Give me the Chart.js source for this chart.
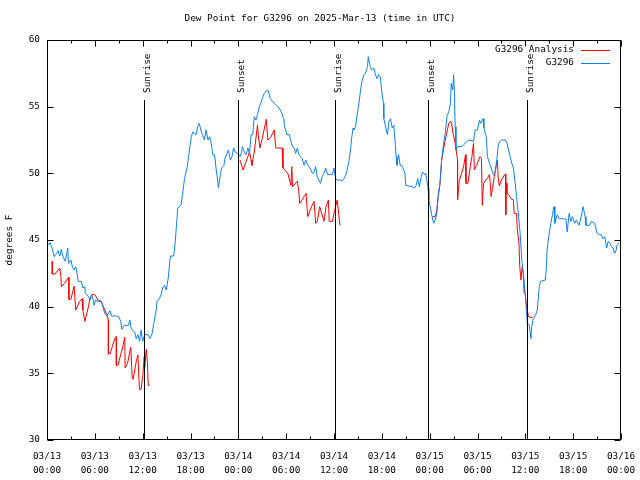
<!DOCTYPE html>
<html>
<head>
<meta charset="utf-8">
<script src="https://cdn.jsdelivr.net/npm/chart.js@4.4.1/dist/chart.umd.min.js"></script>
<style>
  html, body { margin: 0; padding: 0; background: #fff; }
  canvas { display: block; }
</style>
</head>
<body>
<canvas id="dewChart" width="640" height="480"></canvas>
<script>
// hours since 03/13 00:00 UTC, dew point in F
const obsHours = [0.15,0.4,0.7,0.9,1.2,1.4,1.6,1.8,2.0,2.3,2.6,2.7,3.0,3.2,3.4,3.6,3.8,3.9,4.3,4.5,4.75,4.8,5.2,5.4,5.6,5.8,5.9,6.1,6.4,6.8,7.0,7.25,7.5,7.9,8.1,8.7,9.0,9.25,9.4,9.7,10.2,10.4,10.5,10.7,11.0,11.2,11.4,11.6,11.8,12.0,12.25,12.7,12.9,13.15,13.4,13.7,13.8,14.1,14.3,14.5,14.75,14.95,15.2,15.4,15.5,15.9,16.1,16.2,16.4,16.6,16.8,17.0,17.25,17.6,17.9,18.1,18.3,18.5,18.7,18.9,19.1,19.3,19.5,19.75,19.95,20.2,20.4,20.6,20.8,21.0,21.1,21.2,21.4,21.5,21.75,21.9,22.2,22.3,22.6,22.75,23.0,23.2,23.4,23.6,23.9,24.25,24.4,24.5,24.75,24.95,25.2,25.4,25.6,25.8,26.0,26.2,26.4,26.6,26.8,27.0,27.25,27.5,27.75,28.0,28.3,28.5,28.8,29.1,29.4,29.7,29.8,30.1,30.4,30.6,30.8,31.0,31.2,31.4,31.6,31.8,32.0,32.25,32.45,32.7,32.9,33.1,33.3,33.5,33.7,33.9,34.1,34.3,34.5,34.75,34.95,35.2,35.6,35.8,36.0,36.2,36.4,36.8,37.0,37.25,37.5,37.7,37.9,38.1,38.2,38.4,38.5,38.7,38.9,39.1,39.3,39.5,39.75,39.95,40.2,40.3,40.5,40.7,41.0,41.2,41.4,41.6,41.8,42.0,42.2,42.25,42.5,42.7,42.9,43.1,43.3,43.5,43.7,43.8,43.9,44.1,44.3,44.5,44.9,45.0,45.4,45.8,46.1,46.3,46.5,46.7,46.95,47.1,47.4,47.5,47.8,47.9,48.1,48.3,48.5,48.7,48.9,49.1,49.3,49.5,49.75,49.95,50.2,50.4,50.6,50.7,50.9,51.0,51.1,51.2,51.3,51.5,51.95,52.2,52.7,52.9,53.5,53.7,54.0,54.25,54.4,54.7,54.8,55.1,55.25,55.5,55.8,56.0,56.2,56.4,56.6,56.8,57.0,57.5,57.7,57.9,58.1,58.3,58.5,58.7,58.9,59.1,59.35,59.55,59.75,59.95,60.1,60.25,60.5,60.7,60.8,61.0,61.3,61.5,61.75,61.9,62.5,62.6,62.75,63.0,63.2,63.4,63.6,63.7,64.0,64.25,64.7,65.1,65.25,65.5,65.7,65.9,66.2,66.4,66.75,67.0,67.25,67.5,67.6,68.0,68.3,68.7,69.0,69.3,69.5,69.75,69.95,70.2,70.4,70.6,70.8,71.0,71.2,71.4,71.5,71.75];
const obsDewPt = [44.6,44.8,44.25,43.75,44.0,44.2,43.8,44.3,43.75,43.4,44.4,43.25,43.5,42.95,42.75,43.0,42.4,41.9,41.9,41.4,41.5,41.0,40.75,40.5,40.9,40.5,40.1,40.5,40.4,40.4,40.0,39.5,39.3,39.7,39.3,39.3,39.25,38.9,38.3,38.6,38.6,39.0,38.5,38.25,38.1,37.6,37.9,37.4,38.25,37.4,37.9,37.9,37.6,37.9,38.75,39.75,40.4,40.6,40.9,41.4,41.6,41.25,42.1,43.4,43.8,43.8,45.0,45.75,47.4,47.5,47.6,48.4,49.6,50.5,51.9,52.75,53.1,53.0,52.9,53.5,53.75,53.25,52.9,52.5,53.25,52.5,52.75,52.25,51.4,51.4,51.0,50.4,49.5,48.9,49.9,50.4,50.6,51.1,51.5,51.75,51.0,51.25,51.9,51.6,51.5,51.25,51.6,52.0,51.6,51.4,51.9,51.5,52.9,52.9,54.25,54.0,54.4,54.9,55.25,55.6,56.0,56.2,56.2,55.6,55.4,55.25,55.1,54.9,54.6,54.1,53.5,52.9,52.9,52.4,52.0,51.9,51.5,51.9,51.4,51.25,51.1,50.6,51.0,50.6,50.5,50.25,50.0,50.1,50.5,49.75,49.5,49.25,49.75,50.0,50.4,49.9,49.9,49.9,50.4,49.6,49.5,49.5,49.4,49.6,49.9,50.4,51.0,51.9,52.6,53.4,53.25,53.5,54.4,55.1,56.1,56.9,57.4,57.5,58.0,58.75,58.1,57.75,57.9,57.4,57.1,57.4,57.25,56.1,55.25,54.1,53.4,52.9,53.9,54.1,53.4,53.6,52.1,51.25,50.6,51.4,50.6,50.6,50.0,49.1,49.05,49.0,48.9,49.1,49.6,49.0,49.75,50.1,49.9,50.0,48.9,48.0,47.4,46.75,46.25,46.5,47.0,48.5,49.25,51.0,52.25,53.0,54.4,54.6,55.25,56.75,56.25,57.4,56.0,53.5,51.75,52.0,52.0,52.1,52.4,52.5,52.4,53.25,53.25,54.0,53.75,54.1,53.4,52.75,51.25,50.75,50.25,49.9,50.0,50.9,52.1,52.4,52.5,52.5,52.25,51.75,51.25,50.75,50.4,49.4,48.25,47.1,45.5,43.5,42.5,41.25,40.0,38.75,38.6,37.6,38.5,39.1,39.4,39.75,41.5,41.9,42.0,42.6,44.4,45.5,46.25,46.9,47.5,46.25,46.9,46.6,46.6,46.55,45.6,47.0,46.4,46.75,46.25,46.5,46.1,46.75,47.5,46.75,46.1,46.1,46.4,46.25,45.5,45.4,45.4,45.1,45.25,44.4,44.9,44.75,44.5,44.4,44.0,44.25,44.6,44.8];

// analysis series, null = no analysis (gap)
const anaHours = [0.66,0.66,1.0,1.6,1.75,1.8,2.2,2.7,2.75,3.0,3.4,3.6,4.1,4.4,4.5,4.75,5.1,5.4,5.6,6.0,6.4,6.8,7.0,7.25,7.5,7.7,7.7,7.9,8.5,8.7,8.7,8.9,9.5,9.75,9.8,10.1,10.5,10.7,10.8,11.2,11.4,11.6,11.8,12.0,12.2,12.25,12.45,12.6,12.7,12.9,
  18,
  24.2,24.6,25.4,25.6,25.7,26.0,26.4,26.5,26.7,27.0,27.4,27.5,27.7,28.1,28.5,28.7,29.5,29.6,30.2,30.6,30.7,30.8,31.4,31.6,31.7,32.25,32.5,32.7,33.1,33.5,33.7,33.9,34.2,34.4,34.75,35.0,35.3,35.4,35.8,36.0,36.2,36.4,36.6,36.75,
  42,
  48.3,48.7,48.9,49.0,49.3,49.5,49.95,50.4,50.6,50.75,50.9,51.2,51.5,51.5,51.7,52.0,52.25,52.5,52.55,52.8,53.1,53.3,53.5,53.6,53.9,54.3,54.5,54.6,54.75,55.2,55.5,55.6,55.7,55.9,56.1,56.4,56.5,56.6,56.75,57.0,57.4,57.5,57.55,57.6,57.7,57.9,58.2,58.5,58.6,58.9,59.0,59.2,59.3,59.45,59.6,59.75,59.85,60.0,60.15,60.4,60.6,60.9];
const anaDewPt = [43.4,42.45,42.45,42.9,42.25,41.5,41.75,42.2,40.55,40.55,41.55,39.75,40.4,40.6,39.75,38.9,39.75,40.6,40.9,40.9,40.5,40.4,40.1,39.75,39.4,39.0,36.45,36.45,37.6,37.75,35.6,35.6,37.0,37.7,35.4,35.75,36.95,34.6,34.55,35.9,36.4,33.8,33.8,34.75,36.25,35.5,36.8,35.75,34.1,34.1,
  null,
  51.0,50.25,51.6,51.0,50.6,51.6,53.6,52.9,51.9,52.6,53.75,54.05,52.5,52.75,53.25,51.9,51.9,50.4,50.0,49.1,50.5,49.0,49.4,48.6,47.75,48.25,48.5,46.75,47.4,47.9,46.25,46.4,47.5,47.1,46.4,47.5,48.0,46.4,46.4,47.0,47.5,48.0,46.9,46.1,
  null,
  46.75,46.75,47.25,47.9,49.25,51.0,52.5,53.75,53.9,53.75,53.1,52.25,51.0,48.0,49.4,50.0,50.5,51.4,49.25,49.25,50.5,51.25,52.25,50.25,50.6,51.25,51.1,47.6,49.25,49.6,49.9,49.3,48.25,48.9,49.75,50.75,51.0,49.6,49.05,49.5,49.9,49.95,46.9,49.25,48.5,48.4,48.1,48.0,47.0,47.0,45.75,44.75,43.0,42.0,43.0,42.5,41.0,40.9,40.0,39.25,39.2,39.2];

const sunHours = [12.15, 23.95, 36.1, 47.85, 60.15];
const sunLabels = ['Sunrise', 'Sunset', 'Sunrise', 'Sunset', 'Sunrise'];

const xTickDates = ['03/13','03/13','03/13','03/13','03/14','03/14','03/14','03/14','03/15','03/15','03/15','03/15','03/16'];
const xTickTimes = ['00:00','06:00','12:00','18:00','00:00','06:00','12:00','18:00','00:00','06:00','12:00','18:00','00:00'];

const chartTitle = 'Dew Point for G3296 on 2025-Mar-13 (time in UTC)';

const FONT = "'DejaVu Sans Mono', 'Liberation Mono', monospace";
const FSIZE = 9.4;
const RED = '#ff0000';
const BLUE = '#1080f0';

const toPoints = (xs, ys) => xs.map((h, i) => ({ x: h, y: ys[i] }));

// boxed frame, inward ticks, sunrise/sunset markers, title and legend, gnuplot style
const gnuplotFrame = {
  id: 'gnuplotFrame',
  afterDatasetsDraw(chart) {
    const { ctx, chartArea: a, scales: { x, y } } = chart;
    const L = Math.round(a.left) + 0.5, R = Math.round(a.right) - 0.5;
    const T = Math.round(a.top) + 0.5, B = Math.round(a.bottom) - 0.5;
    ctx.save();
    ctx.strokeStyle = '#000';
    ctx.fillStyle = '#000';
    ctx.lineWidth = 1;
    ctx.font = FSIZE + 'px ' + FONT;

    // title, centred on the canvas
    ctx.textAlign = 'center';
    ctx.textBaseline = 'middle';
    ctx.fillText(chartTitle, chart.width / 2, 19);

    // sun lines
    sunHours.forEach((h, i) => {
      const px = Math.round(x.getPixelForValue(h)) + 0.5;
      const top = Math.round(y.getPixelForValue(55.5));
      ctx.beginPath();
      ctx.moveTo(px, top);
      ctx.lineTo(px, B);
      ctx.stroke();
      ctx.save();
      ctx.translate(px + 5, top - 7);
      ctx.rotate(-Math.PI / 2);
      ctx.textAlign = 'left';
      ctx.textBaseline = 'alphabetic';
      ctx.fillText(sunLabels[i], 0, 0);
      ctx.restore();
    });

    // border
    ctx.strokeRect(L, T, R - L, B - T);

    // ticks (inward, mirrored)
    ctx.beginPath();
    for (let v = 30; v <= 60; v += 5) {
      const py = Math.round(y.getPixelForValue(v)) + 0.5;
      ctx.moveTo(L, py); ctx.lineTo(L + 6, py);
      ctx.moveTo(R, py); ctx.lineTo(R - 6, py);
    }
    for (let h = 0; h <= 72; h += 3) {
      const px = Math.round(x.getPixelForValue(h)) + 0.5;
      const len = h % 6 === 0 ? 6 : 3;
      ctx.moveTo(px, B); ctx.lineTo(px, B - len);
      ctx.moveTo(px, T); ctx.lineTo(px, T + len);
    }
    ctx.stroke();

    // legend, top right inside the plot
    ctx.textAlign = 'right';
    ctx.textBaseline = 'middle';
    chart.data.datasets.forEach((ds, i) => {
      const ly = 50 + i * 12.5;
      ctx.fillStyle = '#000';
      ctx.fillText(ds.label, 574, ly);
      ctx.strokeStyle = ds.borderColor;
      ctx.beginPath();
      ctx.moveTo(581, Math.round(ly) + 0.5);
      ctx.lineTo(610, Math.round(ly) + 0.5);
      ctx.stroke();
    });
    ctx.restore();
  }
};

Chart.defaults.color = '#000';
Chart.defaults.font.family = FONT;

const ctx = document.getElementById('dewChart').getContext('2d');
const dewChart = new Chart(ctx, {
  type: 'line',
  data: {
    datasets: [
      {
        label: 'G3296 Analysis',
        data: toPoints(anaHours, anaDewPt),
        borderColor: RED,
        backgroundColor: RED,
        borderWidth: 1,
        pointRadius: 0,
        spanGaps: false,
        order: 1,
      },
      {
        label: 'G3296',
        data: toPoints(obsHours, obsDewPt),
        borderColor: BLUE,
        backgroundColor: BLUE,
        borderWidth: 1,
        pointRadius: 0,
        order: 0,
      },
    ],
  },
  options: {
    responsive: false,
    animation: false,
    layout: { padding: { left: 0, right: 19, top: 40, bottom: 0 } },
    plugins: {
      legend: { display: false },
      tooltip: { enabled: false },
      title: { display: false },
    },
    scales: {
      x: {
        type: 'linear',
        min: 0,
        max: 72,
        afterFit: s => { s.height = 40; s.paddingLeft = 0; s.paddingRight = 0; },
        grid: { display: false, drawTicks: false },
        border: { display: false },
        ticks: {
          stepSize: 6,
          autoSkip: false,
          maxRotation: 0,
          padding: 10,
          font: { family: FONT, size: FSIZE, lineHeight: 1.48 },
          callback: (v, i) => [xTickDates[i], xTickTimes[i]],
        },
      },
      y: {
        min: 30,
        max: 60,
        afterFit: s => { s.width = 47; s.paddingTop = 0; s.paddingBottom = 0; },
        grid: { display: false, drawTicks: false },
        border: { display: false },
        ticks: {
          stepSize: 5,
          padding: 7,
          font: { family: FONT, size: FSIZE },
        },
        title: {
          display: true,
          text: 'degrees F',
          font: { family: FONT, size: FSIZE },
          padding: { top: 4, bottom: 0 },
        },
      },
    },
  },
  plugins: [gnuplotFrame],
});
</script>
</body>
</html>
